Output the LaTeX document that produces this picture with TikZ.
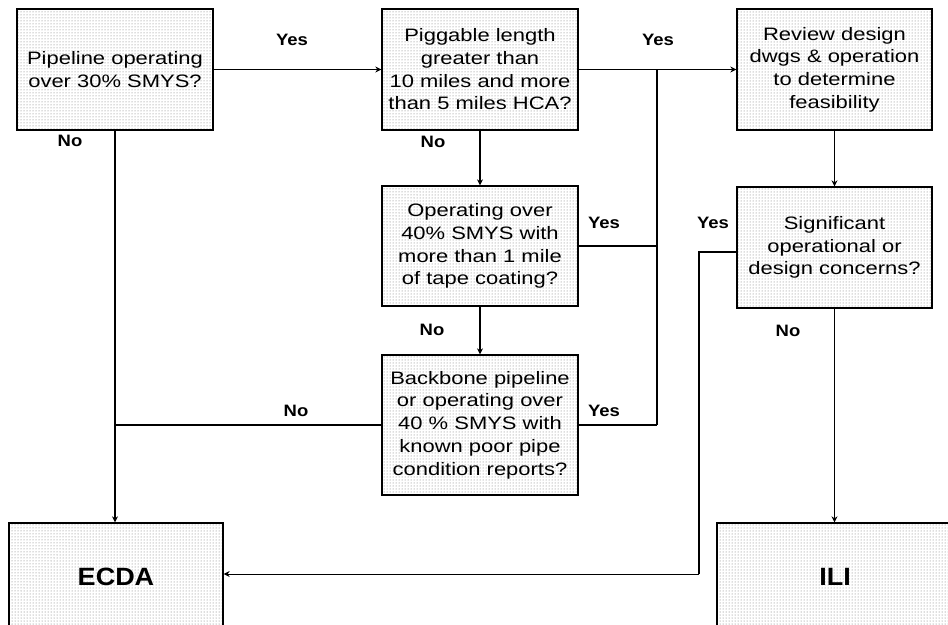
\documentclass[tikz,border=0pt]{standalone}
\usepackage{fontspec}
\setmainfont{Liberation Sans}
\newfontfamily\boxfont[FakeStretch=1.22]{Liberation Sans}
\newfontfamily\labfont[FakeStretch=1.12]{Liberation Sans}
\newfontfamily\bigfont[FakeStretch=1.08]{Liberation Sans}
\usetikzlibrary{arrows.meta,patterns}
\begin{document}
\begin{tikzpicture}[x=1pt,y=-1pt,
  box/.style={draw=black,line width=1.3pt,preaction={fill=white},pattern=dots,pattern color=black!55,
    align=center,inner sep=0pt,font=\boxfont\fontsize{18}{22.7}\selectfont},
  big/.style={draw=black,line width=1.3pt,preaction={fill=white},pattern=dots,pattern color=black!55,
    font=\bigfont\fontsize{25}{28}\selectfont\bfseries,inner sep=0pt},
  lab/.style={font=\labfont\fontsize{16.5}{18}\selectfont\bfseries,inner sep=0pt},
  conn/.style={line width=1.2pt},
  arr/.style={conn,-{Stealth[length=6pt,width=6pt]}}]
\useasboundingbox (0,0) rectangle (948,624);
\clip (0,0) rectangle (948,624);
\node[box,minimum width=196,minimum height=121] (b1) at (115,69.5) {Pipeline operating\\over 30\% SMYS?};
\node[box,minimum width=196,minimum height=121] (b2) at (480,69.5) {Piggable length\\greater than\\10 miles and more\\than 5 miles HCA?};
\node[box,minimum width=195,minimum height=121] (b3) at (834.5,69.5) {Review design\\dwgs \& operation\\to determine\\feasibility};
\node[box,minimum width=196,minimum height=120] (b4) at (480,246) {Operating over\\40\% SMYS with\\more than 1 mile\\of tape coating?};
\node[box,minimum width=196,minimum height=140] (b5) at (480,425) {Backbone pipeline\\or operating over\\40 \% SMYS with\\known poor pipe\\condition reports?};
\node[box,minimum width=195,minimum height=121] (b6) at (834.5,247.5) {Significant\\operational or\\design concerns?};
\node[big,minimum width=214,minimum height=108] (ecda) at (116,577) {ECDA};
\node[big,minimum width=236,minimum height=108] (ili) at (835,577) {ILI};

\coordinate (br) at (657,69.5);
\coordinate (j1) at (699,252);
\coordinate (j2) at (699,574);

\draw[arr] (b1.east) -- (b2.west);
\draw[arr] (b2.east) -- (b3.west);
\draw[conn] (br) -- (br |- b5.east);
\draw[conn] (b4.east) -- (b4.east -| br);
\draw[conn] (b5.east) -- (b5.east -| br);
\draw[arr] (b1.south) -- (ecda.north -| b1.south);
\draw[conn] (b5.west) -- (b5.west -| b1.south);
\draw[arr] (b2.south) -- (b4.north);
\draw[arr] (b4.south) -- (b5.north);
\draw[arr] (b3.south) -- (b6.north);
\draw[arr] (b6.south) -- (ili.north -| b6.south);
\draw[conn] (b6.west |- j1) -- (j1) -- (j2);
\draw[arr,line width=1pt] (j2) -- (j2 -| ecda.east);

\node[lab] (l1) at (292,40) {Yes};
\node[lab] (l2) at (70,141) {No};
\node[lab] (l3) at (658,40) {Yes};
\node[lab] (l4) at (433,142) {No};
\node[lab] (l5) at (604,223) {Yes};
\node[lab] (l6) at (432,330) {No};
\node[lab] (l7) at (604,411) {Yes};
\node[lab] (l8) at (296,411) {No};
\node[lab] (l9) at (713,223) {Yes};
\node[lab] (l10) at (788,331) {No};
\end{tikzpicture}
\end{document}
